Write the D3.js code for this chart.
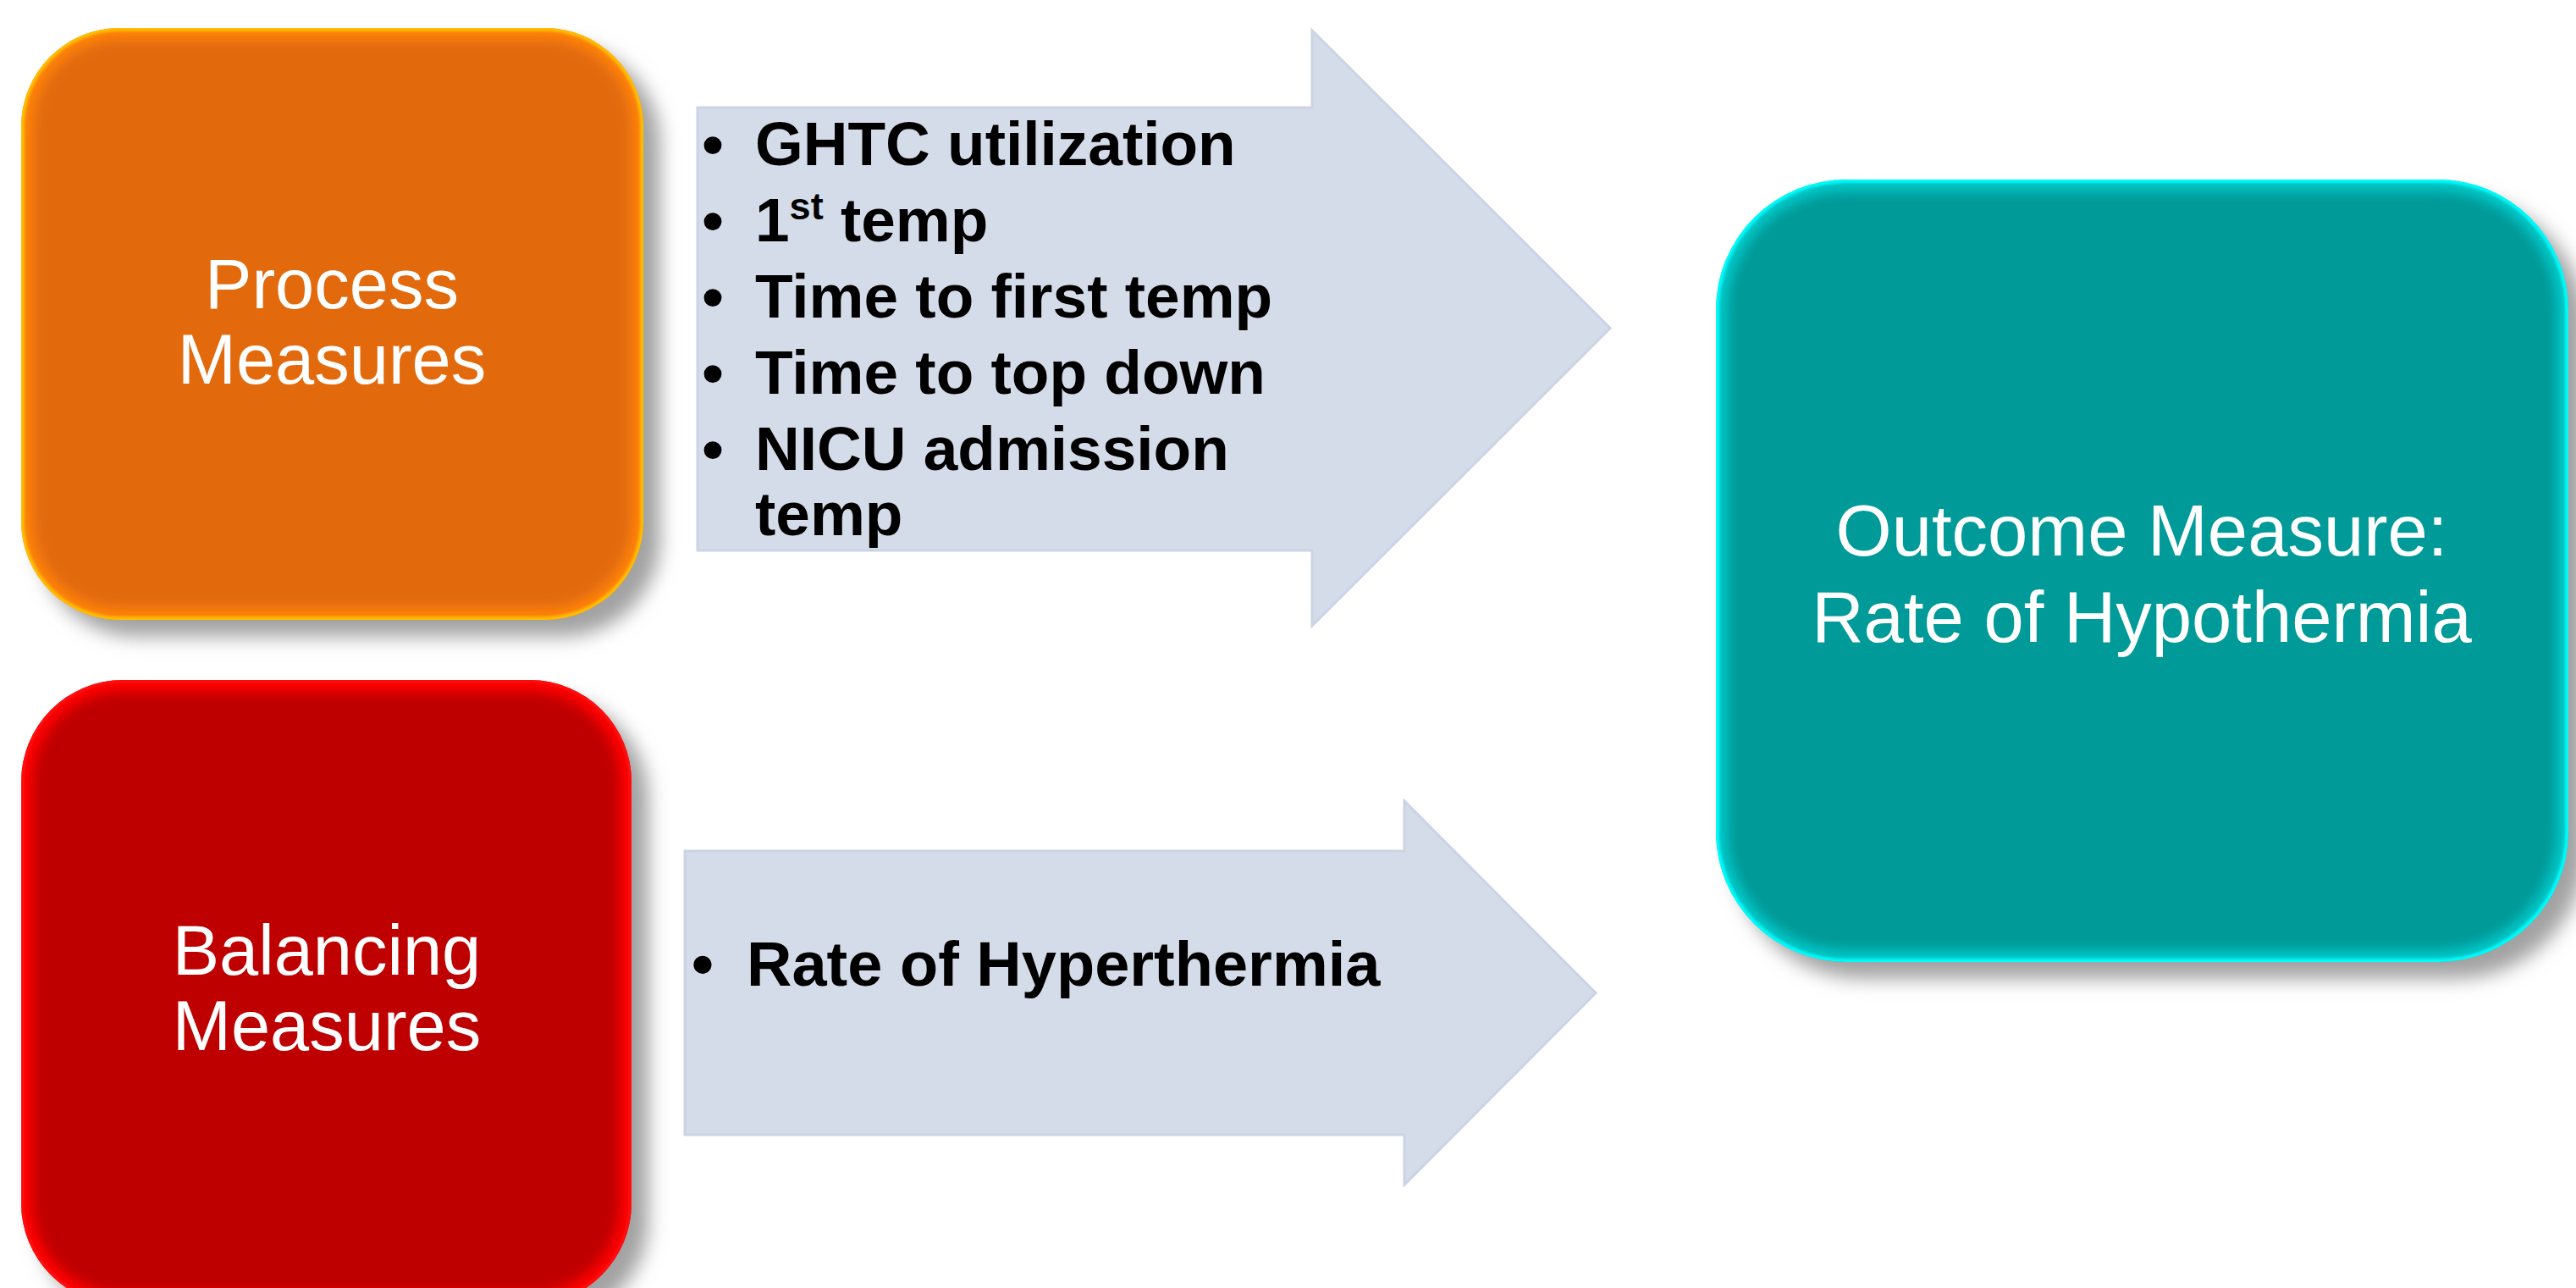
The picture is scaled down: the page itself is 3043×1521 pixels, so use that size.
<!DOCTYPE html>
<html>
<head>
<meta charset="utf-8">
<script src="https://cdn.jsdelivr.net/npm/d3@7"></script>
<style>
  body { margin: 0; background: #ffffff; }
  svg { display: block; }
</style>
</head>
<body>
<svg id="chart"></svg>
<script>
var width = 3043;
var height = 1521;

// ---- content ----
var boxNames = ["process", "balancing", "outcome"];
var boxLabels = [
  ["Process", "Measures"],
  ["Balancing", "Measures"],
  ["Outcome Measure:", "Rate of Hypothermia"]
];

// each item is a list of wrapped lines, each line a list of [text, superscript?]
var processItems = [
  [[["GHTC utilization", false]]],
  [[["1", false], ["st", true], [" temp", false]]],
  [[["Time to first temp", false]]],
  [[["Time to top down", false]]],
  [[["NICU admission", false]], [["temp", false]]]
];
var balancingItems = [
  [[["Rate of Hyperthermia", false]]]
];

// ---- layout (pixels) ----
var boxGeom = [
  {x: 25, y: 33, w: 735, h: 699},
  {x: 25, y: 803, w: 721, h: 738},
  {x: 2027, y: 212, w: 1007, h: 924}
];
var boxStyle = [
  {fill: "#E26B0A", rim: "#FF820C", edge: "#FFBF00", size: 83, lead: 89, cx: 392, base: 364},
  {fill: "#BF0000", rim: "#FF0000", edge: "#FF1010", size: 83, lead: 89, cx: 386, base: 1151},
  {fill: "#009A98", rim: "#00C8C8", edge: "#00FFFF", size: 85, lead: 102, cx: 2530, base: 656}
];

var arrowGeom = [
  {left: 824, shaftTop: 127, shaftBottom: 650, headX: 1550, headTop: 36, headBottom: 739, tipX: 1902},
  {left: 809, shaftTop: 1005, shaftBottom: 1340, headX: 1659, headTop: 946, headBottom: 1399, tipX: 1885}
];
var arrowText = [
  {items: processItems, bulletX: 842, textX: 892, base: 195, paraStep: 90, lineStep: 77, size: 73},
  {items: balancingItems, bulletX: 830, textX: 882, base: 1164, paraStep: 90, lineStep: 77, size: 74}
];

var svg = d3.select("#chart")
    .attr("width", width)
    .attr("height", height);

var defs = svg.append("defs");

var shadowBlur = defs.append("filter")
    .attr("id", "shadowBlur")
    .attr("x", "-20%").attr("y", "-20%")
    .attr("width", "140%").attr("height", "140%");
shadowBlur.append("feGaussianBlur").attr("stdDeviation", 11);

var glowBlur = defs.append("filter")
    .attr("id", "glowBlur")
    .attr("x", "-20%").attr("y", "-20%")
    .attr("width", "140%").attr("height", "140%");
glowBlur.append("feGaussianBlur").attr("stdDeviation", 7);

var edgeBlur = defs.append("filter")
    .attr("id", "edgeBlur")
    .attr("x", "-10%").attr("y", "-10%")
    .attr("width", "120%").attr("height", "120%");
edgeBlur.append("feGaussianBlur").attr("stdDeviation", 1.5);

// ---- arrows (drawn first, boxes' shadows sit on top) ----
var line = d3.line();

arrowGeom.forEach(function(a, i) {
  var midY = (a.headTop + a.headBottom) / 2;
  var pts = [
    [a.left, a.shaftTop], [a.headX, a.shaftTop], [a.headX, a.headTop],
    [a.tipX, midY],
    [a.headX, a.headBottom], [a.headX, a.shaftBottom], [a.left, a.shaftBottom]
  ];
  svg.append("path")
      .attr("class", "arrow")
      .attr("d", line(pts) + "Z")
      .style("fill", "#D5DCE9")
      .style("stroke", "#CBD3E5")
      .style("stroke-width", 3);

  var t = arrowText[i];
  var y = t.base;
  var g = svg.append("g")
      .style("font-family", "'Liberation Sans', Arial, Helvetica, sans-serif")
      .style("font-weight", "bold")
      .style("font-size", t.size + "px")
      .style("fill", "#000000");

  t.items.forEach(function(item, k) {
    if (k > 0) y += t.paraStep;
    g.append("text")
        .attr("x", t.bulletX)
        .attr("y", y)
        .attr("text-anchor", "middle")
        .text("\u2022");
    item.forEach(function(segs, j) {
      if (j > 0) y += t.lineStep;
      var txt = g.append("text")
          .attr("x", t.textX)
          .attr("y", y);
      segs.forEach(function(s) {
        var ts = txt.append("tspan").text(s[0]);
        if (s[1]) {
          ts.style("font-size", Math.round(t.size * 0.62) + "px")
            .attr("dy", -Math.round(t.size * 0.36));
        } else if (txt.selectAll("tspan").size() > 1) {
          ts.attr("dy", Math.round(t.size * 0.36));
        }
      });
    });
  });
});

// ---- rounded boxes with shadow and inner glow ----
boxGeom.forEach(function(b, i) {
  var st = boxStyle[i];
  var r = Math.min(b.w, b.h) / 6;

  defs.append("clipPath")
      .attr("id", "clip-" + boxNames[i])
    .append("rect")
      .attr("x", b.x).attr("y", b.y)
      .attr("width", b.w).attr("height", b.h)
      .attr("rx", r).attr("ry", r);

  // drop shadow
  svg.append("rect")
      .attr("x", b.x + 20).attr("y", b.y + 20)
      .attr("width", b.w).attr("height", b.h)
      .attr("rx", r).attr("ry", r)
      .style("fill", "#a2a2a2")
      .attr("filter", "url(#shadowBlur)");

  var box = svg.append("g")
      .attr("clip-path", "url(#clip-" + boxNames[i] + ")");

  box.append("rect")
      .attr("x", b.x).attr("y", b.y)
      .attr("width", b.w).attr("height", b.h)
      .style("fill", st.rim);

  box.append("rect")
      .attr("x", b.x).attr("y", b.y)
      .attr("width", b.w).attr("height", b.h)
      .attr("rx", r).attr("ry", r)
      .style("fill", "none")
      .style("stroke", st.edge)
      .style("stroke-width", 8)
      .attr("filter", "url(#edgeBlur)");

  var inset = 14;
  box.append("rect")
      .attr("x", b.x + inset).attr("y", b.y + inset)
      .attr("width", b.w - 2 * inset).attr("height", b.h - 2 * inset)
      .attr("rx", r - inset).attr("ry", r - inset)
      .style("fill", st.fill)
      .attr("filter", "url(#glowBlur)");

  var label = svg.append("text")
      .attr("text-anchor", "middle")
      .style("font-family", "'Liberation Sans', Arial, Helvetica, sans-serif")
      .style("font-size", st.size + "px")
      .style("fill", "#ffffff");

  boxLabels[i].forEach(function(l, k) {
    label.append("tspan")
        .attr("x", st.cx)
        .attr("y", st.base + k * st.lead)
        .text(l);
  });
});
</script>
</body>
</html>
